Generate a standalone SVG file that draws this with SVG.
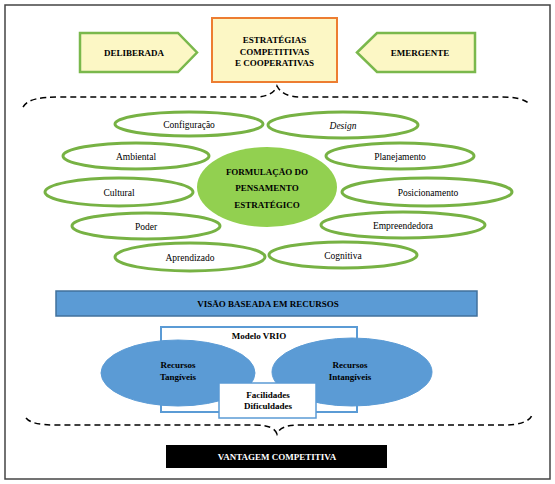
<svg xmlns="http://www.w3.org/2000/svg" width="555" height="484" viewBox="0 0 555 484">
<style>
.b{font-family:"Liberation Serif","Times New Roman",serif;font-weight:bold;font-size:9px;fill:#000;text-anchor:middle}
.r{font-family:"Liberation Serif","Times New Roman",serif;font-size:9.5px;fill:#000;text-anchor:middle}
.oval{fill:#fff;stroke:#77b244;stroke-width:3}
.arrow{fill:#fcf7c5;stroke:#7ab84c;stroke-width:2.5}
.brace{fill:none;stroke:#000;stroke-width:1.5;stroke-dasharray:6 4}
.blue{fill:#5b9bd5;stroke:#5b9bd5;stroke-width:1}
</style>
<rect x="5" y="5" width="545" height="474" fill="#fff" stroke="#444" stroke-width="1.5"/>
<g id="deliberada">
<polygon class="arrow" points="80,33 178,33 197,52.5 178,72 80,72"/>
<text class="b" x="134" y="56">DELIBERADA</text>
</g>
<g id="estrategias">
<rect x="212" y="18" width="125" height="64" fill="#fcf7c5" stroke="#ed7d31" stroke-width="2"/>
<text class="b" x="274.5" y="43">ESTRATÉGIAS</text>
<text class="b" x="274.5" y="55">COMPETITIVAS</text>
<text class="b" x="274.5" y="66">E COOPERATIVAS</text>
</g>
<g id="emergente">
<polygon class="arrow" points="357,52.5 377,33 475,33 475,72 377,72"/>
<text class="b" x="420" y="56">EMERGENTE</text>
</g>
<g id="connectors">
<path class="brace" d="M23,107 C28,99 40,97 60,97 L255,97 C268,97 275,92 277,86 C280,92 287,97 300,97 L500,97 C515,97 526,99 530,105"/>
<path class="brace" d="M26,418 C30,423 40,425 55,425 L255,425 C268,425 275,428 277,434 C279,428 286,425 300,425 L505,425 C520,425 530,421 532,415"/>
</g>
<g id="configuracao"><ellipse class="oval" cx="189" cy="124" rx="74" ry="12"/><text class="r" x="189" y="127.5">Configuração</text></g>
<g id="design"><ellipse class="oval" cx="343" cy="125" rx="75" ry="13"/><text class="r" x="343" y="128.5" font-style="italic">Design</text></g>
<g id="ambiental"><ellipse class="oval" cx="136" cy="156" rx="73" ry="13"/><text class="r" x="136" y="159.5">Ambiental</text></g>
<g id="planejamento"><ellipse class="oval" cx="400" cy="156" rx="74" ry="13"/><text class="r" x="400" y="159.5">Planejamento</text></g>
<g id="cultural"><ellipse class="oval" cx="119" cy="192" rx="74" ry="14"/><text class="r" x="119" y="195.5">Cultural</text></g>
<g id="posicionamento"><ellipse class="oval" cx="427" cy="192" rx="85" ry="14"/><text class="r" x="428" y="195.5">Posicionamento</text></g>
<g id="poder"><ellipse class="oval" cx="146" cy="226" rx="74" ry="13"/><text class="r" x="146" y="229.5">Poder</text></g>
<g id="empreendedora"><ellipse class="oval" cx="403" cy="225" rx="82" ry="13"/><text class="r" x="403" y="228.5">Empreendedora</text></g>
<g id="aprendizado"><ellipse class="oval" cx="190" cy="257" rx="75" ry="14"/><text class="r" x="190" y="260.5">Aprendizado</text></g>
<g id="cognitiva"><ellipse class="oval" cx="343" cy="255" rx="74" ry="13"/><text class="r" x="343" y="258.5">Cognitiva</text></g>
<g id="formulacao">
<ellipse cx="267" cy="187" rx="70" ry="40" fill="#92d050"/>
<text class="b" x="267" y="175" font-size="9.5">FORMULAÇÃO DO</text>
<text class="b" x="267" y="191" font-size="9.5">PENSAMENTO</text>
<text class="b" x="267" y="208" font-size="9.5">ESTRATÉGICO</text>
</g>
<g id="visao">
<rect x="56" y="291" width="421" height="25" fill="#5b9bd5" stroke="#41719c" stroke-width="1.5"/>
<text class="b" x="268" y="307">VISÃO BASEADA EM RECURSOS</text>
</g>
<g id="vrio">
<rect x="161" y="327" width="196" height="85" fill="none" stroke="#5b9bd5" stroke-width="2"/>
<text class="b" x="259" y="339">Modelo VRIO</text>
</g>
<g id="tangiveis">
<ellipse class="blue" cx="178" cy="373" rx="77" ry="33"/>
<text class="b" x="178" y="368">Recursos</text>
<text class="b" x="178" y="380">Tangíveis</text>
</g>
<g id="intangiveis">
<ellipse class="blue" cx="352" cy="372" rx="80" ry="34"/>
<text class="b" x="350" y="368">Recursos</text>
<text class="b" x="350" y="380">Intangíveis</text>
</g>
<g id="facilidades">
<rect x="219" y="383" width="97" height="35" fill="#fff" stroke="#5b9bd5" stroke-width="1.5"/>
<text class="b" x="268" y="398">Facilidades</text>
<text class="b" x="268" y="409">Dificuldades</text>
</g>
<g id="vantagem">
<rect x="166" y="445" width="221" height="23" fill="#000"/>
<text class="b" x="277" y="460" style="fill:#fff">VANTAGEM COMPETITIVA</text>
</g>
</svg>
